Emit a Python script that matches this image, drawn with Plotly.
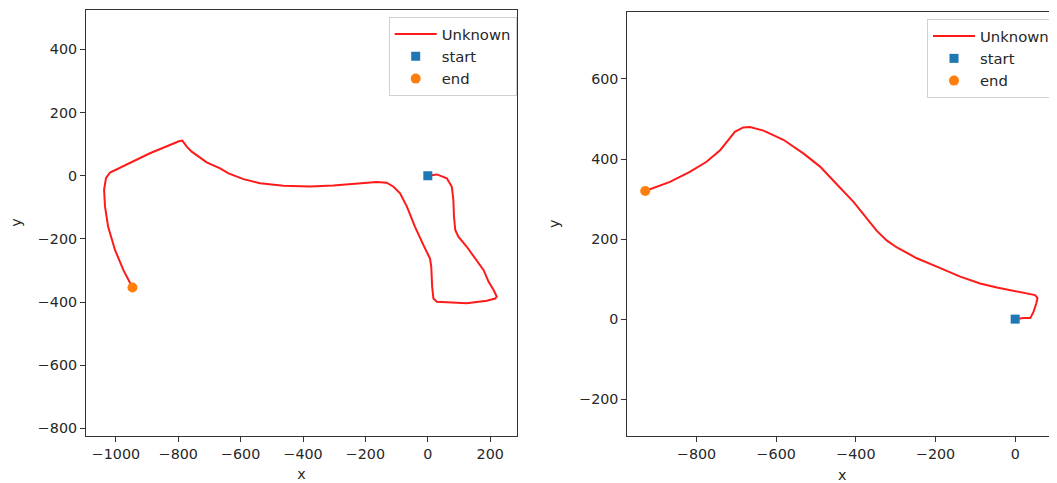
import plotly.graph_objects as go

# ---- Left trajectory ----
left_x = [0, 29, 61, 77, 82, 84, 88, 98, 125, 157, 179, 195, 211, 221, 216, 189, 125, 61, 29, 18, 14, 11, 7,
          -14, -41, -67, -89, -110, -132, -164, -217, -303, -378, -463, -538, -591, -639, -666, -709, -757,
          -773, -787, -798, -891, -1019, -1032, -1038, -1035, -1025, -1003, -976, -947]
left_y = [0, 4, -8, -35, -77, -130, -172, -193, -225, -267, -299, -336, -362, -383, -389, -396, -404, -401, -399,
          -389, -352, -288, -262, -220, -162, -98, -56, -35, -22, -20, -24, -31, -34, -32, -24, -11, 7, 23, 42,
          76, 92, 111, 109, 71, 10, -8, -45, -98, -162, -235, -299, -354]
left_start_x = [0]
left_start_y = [0]
left_end_x = [-947]
left_end_y = [-354]

# ---- Right trajectory ----
right_x = [0, 21, 38, 46, 53, 56, 50, 29, -4, -46, -88, -138, -197, -247, -297, -322, -348, -373, -406, -448,
           -490, -532, -582, -632, -666, -683, -704, -720, -741, -775, -817, -867, -929]
right_y = [0, 3, 3, 18, 39, 53, 60, 64, 70, 79, 89, 106, 131, 152, 179, 196, 221, 252, 293, 337, 381, 414, 448,
           471, 480, 479, 468, 448, 422, 393, 368, 343, 320]
right_start_x = [0]
right_start_y = [0]
right_end_x = [-929]
right_end_y = [320]

left_xticks = [-1000, -800, -600, -400, -200, 0, 200]
left_yticks = [-800, -600, -400, -200, 0, 200, 400]
right_xticks = [-800, -600, -400, -200, 0]
right_yticks = [-200, 0, 200, 400, 600]

LINE = "#ff1a1a"
BLUE = "#1f77b4"
ORANGE = "#ff7f0e"
FONT = "DejaVu Sans"
TXT = "#262626"

fig = go.Figure()

def add_set(xs, ys, sx, sy, ex, ey, xa, ya, leg):
    fig.add_trace(go.Scatter(x=xs, y=ys, mode="lines", name="Unknown",
                             line=dict(color=LINE, width=2), xaxis=xa, yaxis=ya, legend=leg))
    fig.add_trace(go.Scatter(x=sx, y=sy, mode="markers", name="start",
                             marker=dict(color=BLUE, symbol="square", size=9), xaxis=xa, yaxis=ya, legend=leg))
    fig.add_trace(go.Scatter(x=ex, y=ey, mode="markers", name="end",
                             marker=dict(color=ORANGE, symbol="circle", size=10), xaxis=xa, yaxis=ya, legend=leg))

add_set(left_x, left_y, left_start_x, left_start_y, left_end_x, left_end_y, "x", "y", "legend")
add_set(right_x, right_y, right_start_x, right_start_y, right_end_x, right_end_y, "x2", "y2", "legend2")

# the page body has an 8px margin, so figure coordinates = screen coordinates - 8
W, H = 1049, 475
axis_common = dict(showgrid=False, zeroline=False, showline=True, mirror=True, linecolor="#333333",
                   linewidth=1, ticks="outside", ticklen=5, tickcolor="#333333",
                   tickfont=dict(family=FONT, size=14.3, color=TXT), automargin=False)
xtitle = dict(text="x", standoff=8, font=dict(family=FONT, size=14.3, color=TXT))
ytitle = dict(text="y", standoff=16, font=dict(family=FONT, size=14.3, color=TXT))
legend_common = dict(xanchor="right", yanchor="top", bgcolor="white", bordercolor="#d0d0d0",
                     borderwidth=1, itemwidth=42, font=dict(family=FONT, size=14.8, color=TXT))

fig.update_layout(
    width=W, height=H, margin=dict(l=0, r=0, t=0, b=0),
    paper_bgcolor="white", plot_bgcolor="white",
    font=dict(family=FONT, size=14, color=TXT),
    xaxis=dict(domain=[78 / W, 509 / W], range=[-1096, 286], tickvals=left_xticks,
               title=xtitle, anchor="y", **axis_common),
    yaxis=dict(domain=[1 - 427.7 / H, 1 - 1.5 / H], range=[-823, 526], tickvals=left_yticks,
               title=ytitle, anchor="x", **axis_common),
    xaxis2=dict(domain=[619.3 / W, 1.0], range=[-974, 105], tickvals=right_xticks,
                title=xtitle, anchor="y2", **axis_common),
    yaxis2=dict(domain=[1 - 428 / H, 1 - 3.7 / H], range=[-292, 768], tickvals=right_yticks,
                title=ytitle, anchor="x2", **axis_common),
    legend=dict(x=508.7 / W, y=1 - 9 / H, **legend_common),
    legend2=dict(x=1047 / W, y=1 - 11 / H, **legend_common),
)

fig.write_html("out.html")
